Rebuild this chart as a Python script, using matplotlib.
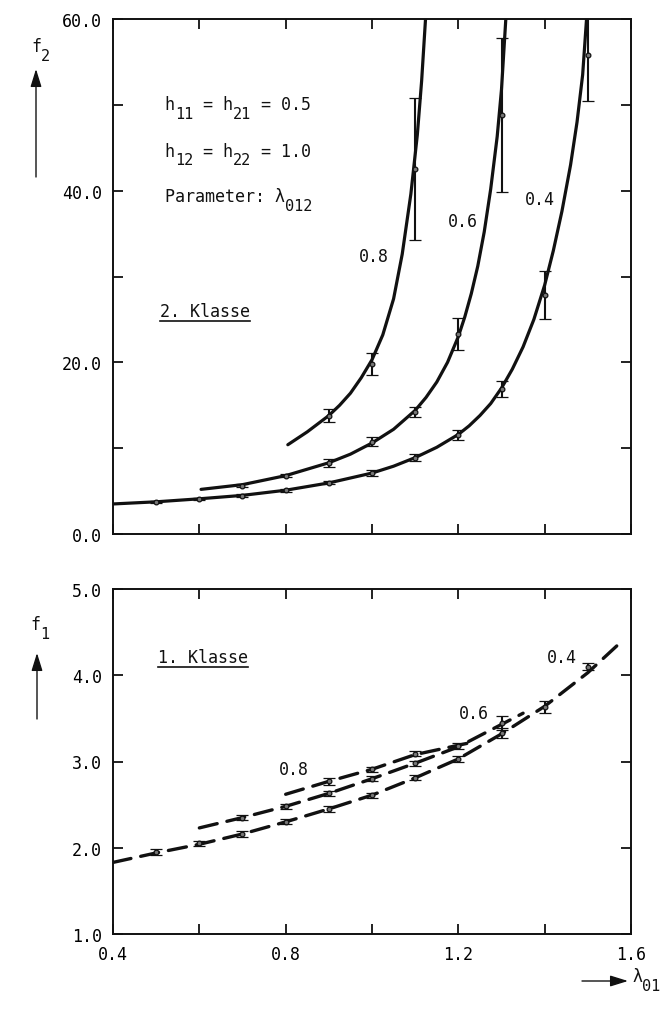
import matplotlib
matplotlib.use("Agg")
import matplotlib.pyplot as plt
from matplotlib.lines import Line2D
from matplotlib.patches import FancyArrowPatch

plt.rcParams["font.family"] = ["DejaVu Sans Mono", "DejaVu Sans"]

# ---- upper panel: f2 (2. Klasse), measured points ----
x_04 = [0.5, 0.6, 0.7, 0.8, 0.9, 1.0, 1.1, 1.2, 1.3, 1.4, 1.5]
f2_04 = [3.7, 4.08, 4.47, 5.08, 6.0, 7.1, 8.9, 11.5, 16.9, 27.8, 55.8]
e2_04 = [0.12, 0.12, 0.15, 0.15, 0.2, 0.3, 0.4, 0.6, 0.9, 2.8, 5.4]

x_06 = [0.7, 0.8, 0.9, 1.0, 1.1, 1.2, 1.3]
f2_06 = [5.63, 6.8, 8.3, 10.75, 14.2, 23.3, 48.8]
e2_06 = [0.15, 0.2, 0.45, 0.5, 0.6, 1.9, 9.0]

x_08 = [0.9, 1.0, 1.1]
f2_08 = [13.8, 19.8, 42.5]
e2_08 = [0.78, 1.3, 8.3]

# fitted curves, upper panel
cx_04 = [0.40, 0.50, 0.60, 0.70, 0.80, 0.90, 1.00, 1.05, 1.10, 1.15, 1.20, 1.225,
         1.25, 1.275, 1.30, 1.325, 1.35, 1.375, 1.40, 1.42, 1.44, 1.46, 1.475,
         1.488, 1.497]
cy_04 = [3.5, 3.75, 4.1, 4.5, 5.1, 5.95, 7.1, 7.9, 8.9, 10.1, 11.6, 12.6,
         13.8, 15.2, 17.0, 19.2, 21.8, 25.0, 29.0, 33.0, 37.6, 43.0, 48.0,
         53.5, 60.0]
cx_06 = [0.604, 0.70, 0.80, 0.90, 0.95, 1.00, 1.05, 1.10, 1.125, 1.15, 1.175,
         1.20, 1.215, 1.23, 1.245, 1.26, 1.275, 1.29, 1.30, 1.31]
cy_06 = [5.2, 5.75, 6.8, 8.3, 9.3, 10.6, 12.2, 14.4, 15.9, 17.7, 20.0,
         23.0, 25.3, 28.0, 31.2, 35.2, 40.2, 46.3, 51.8, 60.0]
cx_08 = [0.805, 0.85, 0.90, 0.925, 0.95, 0.975, 1.00, 1.025, 1.05, 1.07, 1.09,
         1.105, 1.115, 1.124]
cy_08 = [10.4, 11.9, 13.8, 15.0, 16.4, 18.2, 20.3, 23.2, 27.4, 32.6, 39.6,
         46.5, 52.8, 60.0]

# ---- lower panel: f1 (1. Klasse), measured points ----
y1_04 = [1.95, 2.05, 2.16, 2.30, 2.45, 2.61, 2.81, 3.03, 3.33, 3.63, 4.10]
e1_04 = [0.03, 0.03, 0.03, 0.03, 0.03, 0.03, 0.03, 0.03, 0.06, 0.07, 0.04]
y1_06 = [2.35, 2.48, 2.63, 2.80, 2.98, 3.18, 3.45]
e1_06 = [0.03, 0.03, 0.03, 0.03, 0.03, 0.03, 0.08]
y1_08 = [2.77, 2.91, 3.09]
e1_08 = [0.04, 0.03, 0.03]

# fitted curves, lower panel
dx_04 = [0.40, 0.50, 0.60, 0.70, 0.80, 0.90, 1.00, 1.10, 1.20, 1.30, 1.40, 1.50, 1.58]
dy_04 = [1.83, 1.94, 2.04, 2.16, 2.30, 2.45, 2.61, 2.81, 3.03, 3.32, 3.64, 4.03, 4.40]
dx_06 = [0.60, 0.70, 0.80, 0.90, 1.00, 1.10, 1.20, 1.30, 1.35]
dy_06 = [2.23, 2.35, 2.48, 2.63, 2.80, 2.98, 3.17, 3.43, 3.56]
dx_08 = [0.80, 0.90, 1.00, 1.10, 1.22]
dy_08 = [2.62, 2.77, 2.91, 3.08, 3.21]

W, H = 664, 1020
fig = plt.figure(figsize=(W / 100, H / 100), dpi=100)
L, R = 113 / W, 631 / W
ax2 = fig.add_axes([L, 1 - 535 / H, R - L, 515 / H])
ax1 = fig.add_axes([L, 1 - 935 / H, R - L, 345 / H])

ink = "#111111"
FS = 12
SFS = 11
DROP = 5.5

def style(ax):
    for s in ax.spines.values():
        s.set_linewidth(1.4)
        s.set_color(ink)
    ax.tick_params(which="both", direction="in", top=True, right=True,
                   length=7, width=1.3, color=ink, labelsize=FS, pad=8)

def points(ax, xs, ys, es):
    ax.errorbar(xs, ys, yerr=es, fmt="o", ms=3.4, mfc="#777777", mec=ink,
                mew=0.9, ecolor=ink, elinewidth=1.5, capsize=4, capthick=1.5,
                zorder=3)

def chain(first, parts):
    """Continue a text run piece by piece; (string, True) pieces are subscripts."""
    prev, prev_sub = first, False
    for s, sub in parts:
        dy = 0
        if sub and not prev_sub:
            dy = -DROP
        elif prev_sub and not sub:
            dy = DROP
        prev = ax2.annotate(s, xy=(1, 0), xycoords=prev, xytext=(0, dy),
                            textcoords="offset points", ha="left", va="bottom",
                            fontsize=SFS if sub else FS, color=ink,
                            annotation_clip=False)
        prev_sub = sub

# upper panel
ax2.set_xlim(0.4, 1.6)
ax2.set_ylim(0, 60)
ax2.set_xticks([0.4, 0.6, 0.8, 1.0, 1.2, 1.4, 1.6])
ax2.set_xticklabels([])
ax2.set_yticks([0, 20, 40, 60])
ax2.set_yticklabels(["0.0", "20.0", "40.0", "60.0"])
ax2.set_yticks([10, 30, 50], minor=True)
style(ax2)

for cx, cy in [(cx_04, cy_04), (cx_06, cy_06), (cx_08, cy_08)]:
    ax2.plot(cx, cy, color=ink, lw=2.3, solid_capstyle="round",
             solid_joinstyle="round")
for xs, ys, es in [(x_04, f2_04, e2_04), (x_06, f2_06, e2_06), (x_08, f2_08, e2_08)]:
    points(ax2, xs, ys, es)

t = ax2.text(0.52, 49.0, "h", fontsize=FS, va="bottom", color=ink)
chain(t, [("11", True), (" = h", False), ("21", True), (" = 0.5", False)])
t = ax2.text(0.52, 43.6, "h", fontsize=FS, va="bottom", color=ink)
chain(t, [("12", True), (" = h", False), ("22", True), (" = 1.0", False)])
t = ax2.text(0.52, 38.3, "Parameter: \u03bb", fontsize=FS, va="bottom", color=ink)
chain(t, [("012", True)])

ax2.text(1.005, 32.4, "0.8", fontsize=FS, ha="center", va="center", color=ink)
ax2.text(1.21, 36.5, "0.6", fontsize=FS, ha="center", va="center", color=ink)
ax2.text(1.39, 39.0, "0.4", fontsize=FS, ha="center", va="center", color=ink)
k2 = ax2.text(0.51, 26.0, "2. Klasse", fontsize=FS, va="center", color=ink)

# lower panel
ax1.set_xlim(0.4, 1.6)
ax1.set_ylim(1, 5)
ax1.set_xticks([0.4, 0.8, 1.2, 1.6])
ax1.set_xticklabels(["0.4", "0.8", "1.2", "1.6"])
ax1.set_xticks([0.6, 1.0, 1.4], minor=True)
ax1.set_yticks([1, 2, 3, 4, 5])
ax1.set_yticklabels(["1.0", "2.0", "3.0", "4.0", "5.0"])
style(ax1)

for cx, cy in [(dx_04, dy_04), (dx_06, dy_06), (dx_08, dy_08)]:
    ax1.plot(cx, cy, color=ink, lw=2.4, dashes=(5.5, 3), dash_capstyle="round")
for xs, ys, es in [(x_04, y1_04, e1_04), (x_06, y1_06, e1_06), (x_08, y1_08, e1_08)]:
    points(ax1, xs, ys, es)

ax1.text(0.818, 2.91, "0.8", fontsize=FS, ha="center", va="center", color=ink)
ax1.text(1.235, 3.56, "0.6", fontsize=FS, ha="center", va="center", color=ink)
ax1.text(1.44, 4.21, "0.4", fontsize=FS, ha="center", va="center", color=ink)
k1 = ax1.text(0.505, 4.21, "1. Klasse", fontsize=FS, va="center", color=ink)

# axis captions with arrows (figure pixel coordinates, origin top-left)
def fx(px):
    return px / W

def fy(py):
    return 1 - py / H

def arrow(p0, p1):
    fig.add_artist(FancyArrowPatch((fx(p0[0]), fy(p0[1])), (fx(p1[0]), fy(p1[1])),
                                   transform=fig.transFigure,
                                   arrowstyle="-|>,head_length=0.9,head_width=0.28",
                                   mutation_scale=12, color=ink, lw=1.0,
                                   shrinkA=0, shrinkB=0))

t = fig.text(fx(31), fy(56), "f", fontsize=FS, ha="left", va="bottom", color=ink)
chain(t, [("2", True)])
arrow((36, 178), (36, 70))
t = fig.text(fx(30), fy(634), "f", fontsize=FS, ha="left", va="bottom", color=ink)
chain(t, [("1", True)])
arrow((37, 720), (37, 654))
arrow((582, 982), (628, 982))
t = fig.text(fx(632), fy(986), "\u03bb", fontsize=FS, ha="left", va="bottom", color=ink)
chain(t, [("01", True)])

# underline the class captions
fig.canvas.draw()
rend = fig.canvas.get_renderer()
inv = fig.transFigure.inverted()
for t in (k2, k1):
    bb = t.get_window_extent(rend)
    (x0, y0), (x1, _) = inv.transform([[bb.x0, bb.y0 - 1], [bb.x1, bb.y0 - 1]])
    fig.add_artist(Line2D([x0, x1], [y0, y0], transform=fig.transFigure,
                          color=ink, lw=1.2))

fig.savefig("out.png", dpi=100, facecolor="white")
